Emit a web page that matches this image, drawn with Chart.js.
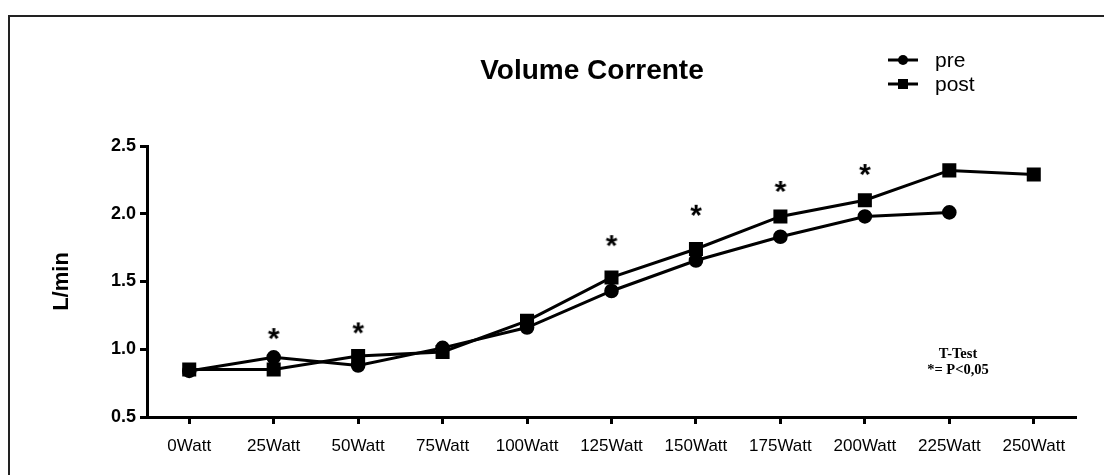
<!DOCTYPE html>
<html>
<head>
<meta charset="utf-8">
<script src="https://cdn.jsdelivr.net/npm/chart.js@4/dist/chart.umd.min.js"></script>
<style>
  html, body { margin: 0; padding: 0; background: #fff; }
  #wrap { width: 1104px; height: 475px; position: relative; }
</style>
</head>
<body>
<div id="wrap"><canvas id="c" width="1104" height="475"></canvas></div>
<script>
const categories = ['0Watt','25Watt','50Watt','75Watt','100Watt','125Watt','150Watt','175Watt','200Watt','225Watt','250Watt'];
const preValues  = [0.84, 0.94, 0.88, 1.01, 1.16, 1.43, 1.655, 1.83, 1.98, 2.01, null];
const postValues = [0.85, 0.85, 0.95, 0.98, 1.21, 1.53, 1.74, 1.98, 2.10, 2.32, 2.29];
const starValues = [null, 1.134, 1.176, null, null, 1.82, 2.044, 2.22, 2.345, null, null];
const yTicks = [0.5, 1.0, 1.5, 2.0, 2.5];
const titleText = 'Volume Corrente';
const yTitle = 'L/min';
const noteLines = ['T-Test', '*= P<0,05'];

// asterisk marker image
const star = document.createElement('canvas');
star.width = 24; star.height = 24;
(function(){
  const g = star.getContext('2d');
  g.fillStyle = '#000';
  g.font = 'bold 30px "Liberation Sans", Arial, sans-serif';
  g.textAlign = 'center';
  g.textBaseline = 'alphabetic';
  g.fillText('*', 12, 12 + 17);
})();

const SANS = '"Liberation Sans", Arial, sans-serif';

const decor = {
  id: 'decor',
  afterDraw(chart) {
    const ctx = chart.ctx;
    ctx.save();
    // frame
    ctx.strokeStyle = '#222';
    ctx.lineWidth = 2;
    ctx.beginPath();
    ctx.moveTo(9, 480);
    ctx.lineTo(9, 16);
    ctx.lineTo(1110, 16);
    ctx.stroke();
    // title
    ctx.fillStyle = '#000';
    ctx.font = 'bold 28px ' + SANS;
    ctx.textAlign = 'center';
    ctx.textBaseline = 'alphabetic';
    ctx.fillText(titleText, 592, 79);
    // legend
    const items = [
      { label: chart.data.datasets[0].label, style: 'circle', y: 60 },
      { label: chart.data.datasets[1].label, style: 'rect', y: 84 }
    ];
    items.forEach(it => {
      ctx.strokeStyle = '#000';
      ctx.lineWidth = 3;
      ctx.beginPath();
      ctx.moveTo(888, it.y);
      ctx.lineTo(918, it.y);
      ctx.stroke();
      ctx.fillStyle = '#000';
      if (it.style === 'circle') {
        ctx.beginPath();
        ctx.arc(903, it.y, 5, 0, Math.PI * 2);
        ctx.fill();
      } else {
        ctx.fillRect(898, it.y - 5, 10, 10);
      }
      ctx.font = '21px ' + SANS;
      ctx.textAlign = 'left';
      ctx.textBaseline = 'middle';
      ctx.fillText(it.label, 935, it.y + 1);
    });
    // note
    ctx.font = 'bold 14.5px "Liberation Serif", "Times New Roman", serif';
    ctx.textAlign = 'center';
    ctx.textBaseline = 'middle';
    ctx.fillText(noteLines[0], 958, 354);
    ctx.fillText(noteLines[1], 958, 370);
    ctx.restore();
  }
};

new Chart(document.getElementById('c'), {
  type: 'line',
  data: {
    labels: categories,
    datasets: [
      {
        label: 'pre', data: preValues,
        borderColor: '#000', backgroundColor: '#000', borderWidth: 3,
        pointStyle: 'circle', pointRadius: 5.8, pointHoverRadius: 5.8,
        fill: false, tension: 0, spanGaps: false
      },
      {
        label: 'post', data: postValues,
        borderColor: '#000', backgroundColor: '#000', borderWidth: 3,
        pointStyle: 'rect', pointRadius: 7.8, pointHoverRadius: 7.8,
        fill: false, tension: 0
      },
      {
        label: 'sig', data: starValues,
        showLine: false, pointStyle: star, pointRadius: 12,
        borderColor: '#000', backgroundColor: '#000'
      }
    ]
  },
  options: {
    responsive: false,
    animation: false,
    devicePixelRatio: 1,
    layout: { padding: { left: 8, right: 28, top: 146, bottom: 18 } },
    plugins: { legend: { display: false }, title: { display: false }, tooltip: { enabled: false } },
    scales: {
      x: {
        type: 'category',
        offset: true,
        afterFit(s) { s.height = 40; },
        grid: { drawOnChartArea: false, drawTicks: true, tickLength: 7, tickWidth: 3, tickColor: '#000', offset: false },
        border: { display: true, color: '#000', width: 3 },
        ticks: { color: '#000', font: { family: SANS, size: 17 }, padding: 12, maxRotation: 0, autoSkip: false }
      },
      y: {
        min: 0.5, max: 2.5,
        afterFit(s) { s.width = 139; },
        afterBuildTicks(s) { s.ticks = yTicks.map(v => ({ value: v })); },
        grid: { drawOnChartArea: false, drawTicks: true, tickLength: 7, tickWidth: 3, tickColor: '#000' },
        border: { display: true, color: '#000', width: 3 },
        ticks: {
          color: '#000', font: { family: SANS, size: 18, weight: 'bold' }, padding: 4,
          callback: v => Number(v).toFixed(1)
        },
        title: { display: true, text: yTitle, color: '#000', font: { family: SANS, size: 22, weight: 'bold' }, padding: { top: 41, bottom: 0 } }
      }
    }
  },
  plugins: [decor]
});
</script>
</body>
</html>
